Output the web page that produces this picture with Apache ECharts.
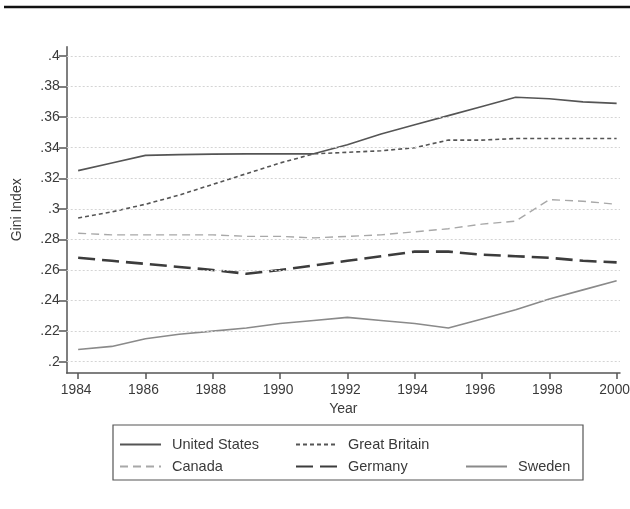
<!DOCTYPE html>
<html>
<head>
<meta charset="utf-8">
<script src="https://cdn.jsdelivr.net/npm/echarts@6/dist/echarts.min.js"></script>
<style>
html,body{margin:0;padding:0;background:#fff;}
#chart{width:630px;height:509px;}
</style>
</head>
<body>
<div id="chart"></div>
<script>
const years = [1984,1985,1986,1987,1988,1989,1990,1991,1992,1993,1994,1995,1996,1997,1998,1999,2000];
const unitedStates = [0.325,0.330,0.335,0.3355,0.3358,0.336,0.336,0.336,0.342,0.349,0.355,0.361,0.367,0.373,0.372,0.370,0.369];
const greatBritain = [0.294,0.298,0.303,0.309,0.316,0.323,0.330,0.336,0.337,0.338,0.340,0.345,0.345,0.346,0.346,0.346,0.346];
const canada       = [0.284,0.283,0.283,0.283,0.283,0.282,0.282,0.281,0.282,0.283,0.285,0.287,0.290,0.292,0.306,0.305,0.303];
const germany      = [0.268,0.266,0.264,0.262,0.260,0.2575,0.260,0.263,0.266,0.269,0.272,0.272,0.270,0.269,0.268,0.266,0.265];
const sweden       = [0.208,0.210,0.215,0.218,0.220,0.222,0.225,0.227,0.229,0.227,0.225,0.222,0.228,0.234,0.241,0.247,0.253];
const xTicks = [1984,1986,1988,1990,1992,1994,1996,1998,2000];
const yTicks = [0.2,0.22,0.24,0.26,0.28,0.3,0.32,0.34,0.36,0.38,0.4];

const FONT = 'Liberation Sans, Arial, sans-serif';
const TXT = '#3a3a3a';

function pairs(vals){ return years.map((y,i)=>[y, vals[i]]); }

function mkSeries(name, vals, color, width, type, extra){
  return Object.assign({
    name: name,
    type: 'line',
    data: pairs(vals),
    symbol: 'none',
    showSymbol: false,
    silent: true,
    animation: false,
    lineStyle: {color: color, width: width, type: type},
    itemStyle: {color: color}
  }, extra || {});
}

function mkLegend(name, left, top){
  return {
    data: [name], left: left, top: top, padding: 0,
    itemWidth: 41, itemHeight: 14, selectedMode: false,
    itemStyle: {opacity: 0},
    textStyle: {fontFamily: FONT, fontSize: 14.5, color: TXT, padding: [0,0,0,6]}
  };
}

const chart = echarts.init(document.getElementById('chart'), null, {renderer: 'canvas'});
chart.setOption({
  backgroundColor: '#fff',
  animation: false,
  grid: {left: 66.7, top: 46.7, right: 10, bottom: 136, containLabel: false, outerBoundsMode: 'none'},
  xAxis: {
    type: 'value', min: 1983.66, max: 2000.1,
    name: 'Year', nameLocation: 'middle', nameGap: 29,
    nameTextStyle: {fontFamily: FONT, fontSize: 14, color: TXT},
    axisLine: {lineStyle: {color: '#555', width: 1.5}},
    axisTick: {show: true, length: 6, lineStyle: {color: '#555', width: 1.5}, customValues: xTicks},
    axisLabel: {fontFamily: FONT, fontSize: 13.8, color: TXT, margin: 10, customValues: xTicks,
      padding: [0,4,0,0], hideOverlap: false, formatter: v => String(v)},
    splitLine: {show: false}
  },
  yAxis: {
    type: 'value', min: 0.1926, max: 0.4061,
    name: 'Gini Index', nameLocation: 'middle', nameGap: 43, nameRotate: 90,
    nameTextStyle: {fontFamily: FONT, fontSize: 14, color: TXT},
    axisLine: {show: true, lineStyle: {color: '#555', width: 1.5}},
    axisTick: {show: true, length: 8, lineStyle: {color: '#555', width: 1.5}, customValues: yTicks},
    axisLabel: {fontFamily: FONT, fontSize: 14, color: TXT, margin: 7, customValues: yTicks,
      formatter: v => String(+(+v).toFixed(2)).replace(/^0/, '')},
    splitLine: {show: false}
  },
  legend: [
    mkLegend('United States', 119, 437),
    mkLegend('Great Britain', 295, 437),
    mkLegend('Canada', 119, 459),
    mkLegend('Germany', 295, 459),
    mkLegend('Sweden', 465, 459)
  ],
  graphic: [
    {type: 'line', shape: {x1: 4, y1: 7, x2: 630, y2: 7}, style: {stroke: '#111', lineWidth: 2.5}, silent: true},
    {type: 'rect', shape: {x: 113, y: 425, width: 470, height: 55}, style: {fill: 'none', stroke: '#555', lineWidth: 1.2}, silent: true, z: -1}
  ],
  series: [
    mkSeries('United States', unitedStates, '#555', 1.6, 'solid', {
      markLine: {
        silent: true, symbol: 'none', animation: false, label: {show: false},
        lineStyle: {color: '#d4d4d4', width: 1, type: [2,2]},
        data: yTicks.map(v => ({yAxis: v}))
      },
      z: 3
    }),
    mkSeries('Great Britain', greatBritain, '#555', 1.6, [4,3], {z: 3}),
    mkSeries('Canada', canada, '#a8a8a8', 1.4, [8,5], {z: 3}),
    mkSeries('Germany', germany, '#3c3c3c', 2.6, [17,7], {z: 3}),
    mkSeries('Sweden', sweden, '#8a8a8a', 1.6, 'solid', {z: 3})
  ]
});
</script>
</body>
</html>
